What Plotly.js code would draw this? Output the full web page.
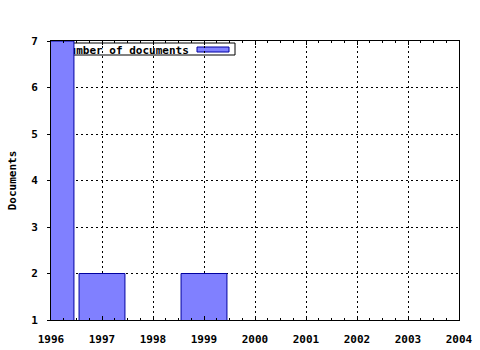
<!DOCTYPE html>
<html><head><meta charset="utf-8">
<script src="https://cdn.plot.ly/plotly-3.0.1.min.js"></script>
<style>html,body{margin:0;padding:0;background:#fff}</style>
</head><body>
<div id="chart" style="width:480px;height:350px"></div>
<script>
const years = [1996, 1997, 1999];
const documents = [7, 2, 2];
const seriesName = 'Number of documents';
const yAxisTitle = 'Documents';

const F = {family: 'DejaVu Sans Mono, monospace', size: 11, color: '#000', weight: 'bold'};

const trace = {
  type: 'bar', x: years, y: documents, width: 0.9, name: seriesName,
  marker: {color: '#8080ff', line: {color: '#0000a0', width: 1}},
  showlegend: false, hoverinfo: 'none'
};

const layout = {
  width: 480, height: 350,
  margin: {l: 51, r: 21, t: 41, b: 30, pad: 0},
  paper_bgcolor: '#fff', plot_bgcolor: '#fff',
  font: F,
  showlegend: false,
  xaxis: {
    range: [1996, 2004], dtick: 1, tick0: 1996, tickformat: 'd',
    showgrid: true, gridcolor: '#000', griddash: '2px,3px', gridwidth: 1,
    showline: true, linecolor: '#000', linewidth: 1, mirror: 'ticks',
    ticks: 'inside', ticklen: 4, tickcolor: '#000', ticklabelstandoff: 9,
    minor: {dtick: 0.25, ticks: 'inside', ticklen: 2, tickcolor: '#000', showgrid: false},
    tickfont: F, zeroline: false, fixedrange: true
  },
  yaxis: {
    range: [1, 7], dtick: 1,
    showgrid: true, gridcolor: '#000', griddash: '2px,3px', gridwidth: 1,
    showline: true, linecolor: '#000', linewidth: 1, mirror: true,
    ticks: 'outside', ticklen: 3, tickcolor: '#000', ticklabelstandoff: 7,
    tickfont: F, zeroline: false, fixedrange: true,
    title: {text: yAxisTitle, font: F, standoff: 12}
  },
  shapes: [
    {type: 'rect', xref: 'paper', yref: 'paper', layer: 'between',
     x0: (56-51)/408, x1: (235-51)/408, y0: (320-55)/279, y1: (320-43)/279,
     fillcolor: '#fff', line: {color: '#000', width: 1},
     label: {text: seriesName, textposition: 'middle left', padding: 4, font: F}},
    {type: 'rect', xref: 'paper', yref: 'paper', layer: 'between',
     x0: (197-51)/408, x1: (229-51)/408, y0: (320-52)/279, y1: (320-47)/279,
     fillcolor: '#8080ff', line: {color: '#0000a0', width: 1}}
  ]
};

Plotly.newPlot('chart', [trace], layout, {displayModeBar: false, staticPlot: true});
</script>
</body></html>
